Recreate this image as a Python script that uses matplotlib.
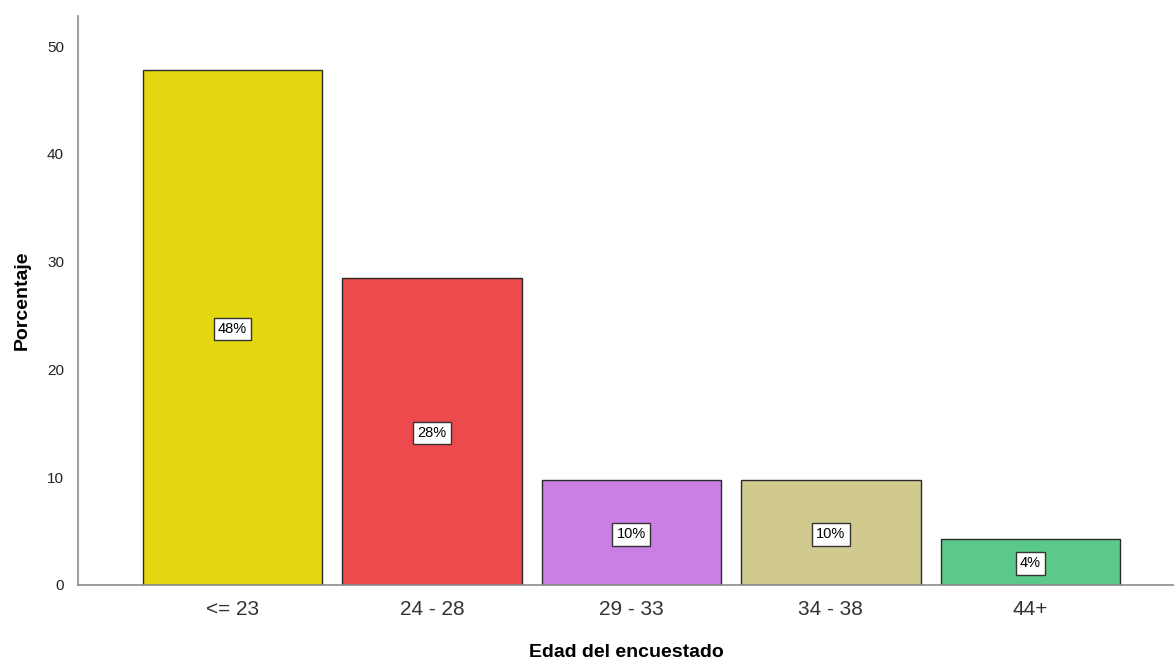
import matplotlib.pyplot as plt

plt.rcParams['font.family'] = ['Liberation Sans', 'DejaVu Sans']

# Age groups and share of respondents (%)
grupos = ['<= 23', '24 - 28', '29 - 33', '34 - 38', '44+']
porcentajes = [47.8, 28.5, 9.7, 9.7, 4.3]
etiquetas = ['48%', '28%', '10%', '10%', '4%']
colores = ['#E3D70F', '#EC4A4C', '#CB7EE4', '#D0CA8F', '#5BC98A']

fig = plt.figure(figsize=(11.74, 6.64), dpi=100)
ax = fig.add_axes([0.0664, 0.119, 0.9336, 0.857])

x = range(len(grupos))
bars = ax.bar(x, porcentajes, width=0.9, color=colores,
              edgecolor='#2b2b2b', linewidth=1.0)

for b, txt in zip(bars, etiquetas):
    ax.text(b.get_x() + b.get_width() / 2, b.get_height() / 2, txt,
            ha='center', va='center_baseline', fontsize=10.5, color='black',
            bbox=dict(boxstyle='square,pad=0.3', fc='white',
                      ec='#333333', lw=1.0))

ax.set_xlim(-0.775, 4.72)
ax.set_ylim(0, 52.8)
ax.set_yticks([0, 10, 20, 30, 40, 50])
ax.set_xticks(list(x))
ax.set_xticklabels(grupos, fontsize=15, color='#333333')
ax.tick_params(axis='y', labelsize=11, colors='#222222', length=0, pad=10)
ax.tick_params(axis='x', length=0, pad=11)

for s in ['top', 'right']:
    ax.spines[s].set_visible(False)
for s in ['left', 'bottom']:
    ax.spines[s].set_color('#8c8c8c')
    ax.spines[s].set_linewidth(1.2)

ax.set_ylabel('Porcentaje', fontsize=14, fontweight='bold', labelpad=12)
ax.set_xlabel('Edad del encuestado', fontsize=14, fontweight='bold', labelpad=18)

fig.savefig('out.png', dpi=100)
